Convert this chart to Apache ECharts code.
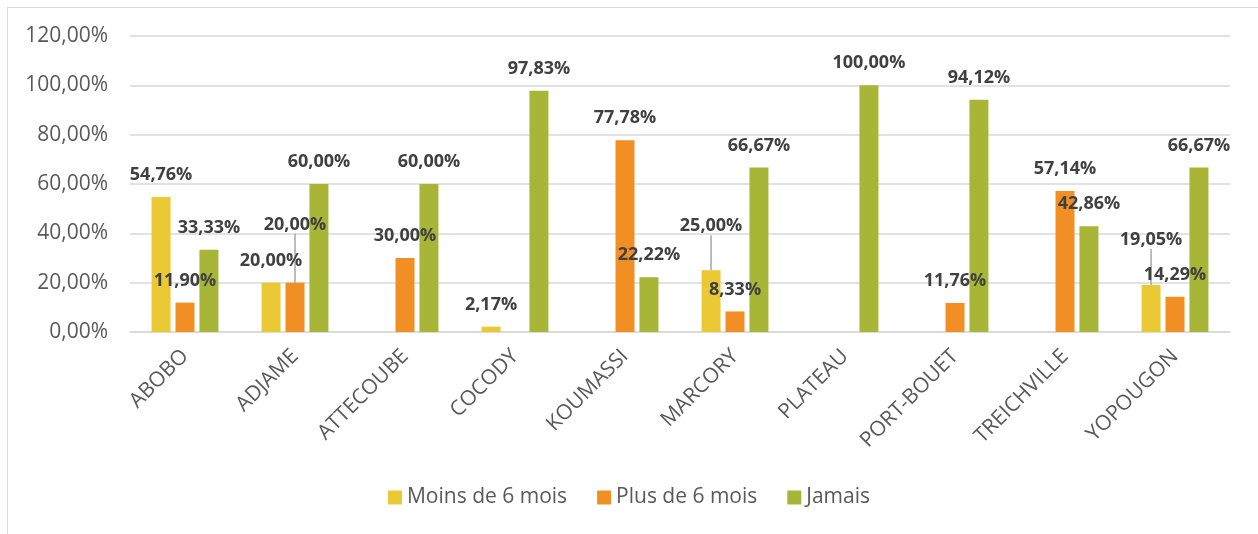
<!DOCTYPE html>
<html>
<head>
<meta charset="utf-8">
<script src="https://cdn.jsdelivr.net/npm/echarts@6/dist/echarts.min.js"></script>
<style>
  html, body { margin: 0; padding: 0; background: #fff; }
  #frame { position: absolute; left: 7px; top: 7px; width: 1270px; height: 550px; border: 1px solid #d9d9d9; }
  #chart { position: absolute; left: 0; top: 0; width: 1258px; height: 534px; }
</style>
</head>
<body>
<div id="frame"></div>
<div id="chart"></div>
<script>
// communes
const communes = ['ABOBO', 'ADJAME', 'ATTECOUBE', 'COCODY', 'KOUMASSI', 'MARCORY', 'PLATEAU', 'PORT-BOUET', 'TREICHVILLE', 'YOPOUGON']

// valeurs en %
const moinsDe6Mois = [54.76, 20.00, 0, 2.17, 0, 25.00, 0, 0, 0, 19.05]
const plusDe6Mois = [11.90, 20.00, 30.00, 0, 77.78, 8.33, 0, 11.76, 57.14, 14.29]
const jamais = [33.33, 60.00, 60.00, 97.83, 22.22, 66.67, 100.00, 94.12, 42.86, 66.67]

const yTicks = [0, 20, 40, 60, 80, 100, 120]

// étiquettes déplacées à la main (avec trait de rappel)
const moved = {
  'Moins de 6 mois': { 5: -22, 9: -23 },
  'Plus de 6 mois': { 1: -36 }
}

const fmtPct = v => v.toFixed(2).replace('.', ',') + '%'

function makeSeries(name, data, color) {
  const shifts = moved[name] || {}
  return {
    name: name,
    type: 'bar',
    data: data.map((v, i) => ({
      value: v,
      label: { show: v > 0 },
      labelLine: { show: !!shifts[i] }
    })),
    barWidth: 19,
    barGap: '26%',
    itemStyle: { color: color },
    label: {
      show: true,
      position: 'top',
      distance: 13,
      color: '#404040',
      fontWeight: 'bold',
      fontSize: 18,
      fontFamily: 'Open Sans',
      formatter: p => fmtPct(p.value)
    },
    labelLine: {
      show: false,
      lineStyle: { color: '#a6a6a6', width: 1.5 }
    },
    labelLayout: params => {
      const dy = shifts[params.dataIndex]
      return dy ? { dy: dy } : {}
    }
  }
}

const chart = echarts.init(document.getElementById('chart'))
chart.setOption({
  animation: false,
  textStyle: { fontFamily: 'Open Sans' },
  grid: { left: 130, right: 28, top: 36, bottom: 202 },
  legend: {
    bottom: 21,
    left: 'center',
    itemWidth: 14,
    itemHeight: 14,
    itemGap: 30,
    icon: 'rect',
    textStyle: { color: '#595959', fontSize: 21, fontFamily: 'Open Sans' }
  },
  xAxis: {
    type: 'category',
    data: communes,
    axisLine: { lineStyle: { color: '#d9d9d9', width: 1.5 } },
    axisTick: { show: false },
    axisLabel: {
      rotate: 45,
      interval: 0,
      margin: 21,
      color: '#595959',
      fontSize: 21,
      fontFamily: 'Open Sans'
    }
  },
  yAxis: {
    type: 'value',
    min: yTicks[0],
    max: yTicks[yTicks.length - 1],
    interval: yTicks[1] - yTicks[0],
    axisLine: { show: false },
    axisTick: { show: false },
    splitLine: { lineStyle: { color: '#d9d9d9', width: 1.5 } },
    axisLabel: {
      color: '#595959',
      fontSize: 21,
      margin: 22,
      fontFamily: 'Open Sans',
      formatter: v => fmtPct(v)
    }
  },
  series: [
    makeSeries('Moins de 6 mois', moinsDe6Mois, '#ebc934'),
    makeSeries('Plus de 6 mois', plusDe6Mois, '#f28f24'),
    makeSeries('Jamais', jamais, '#a8b637')
  ]
})
</script>
</body>
</html>
